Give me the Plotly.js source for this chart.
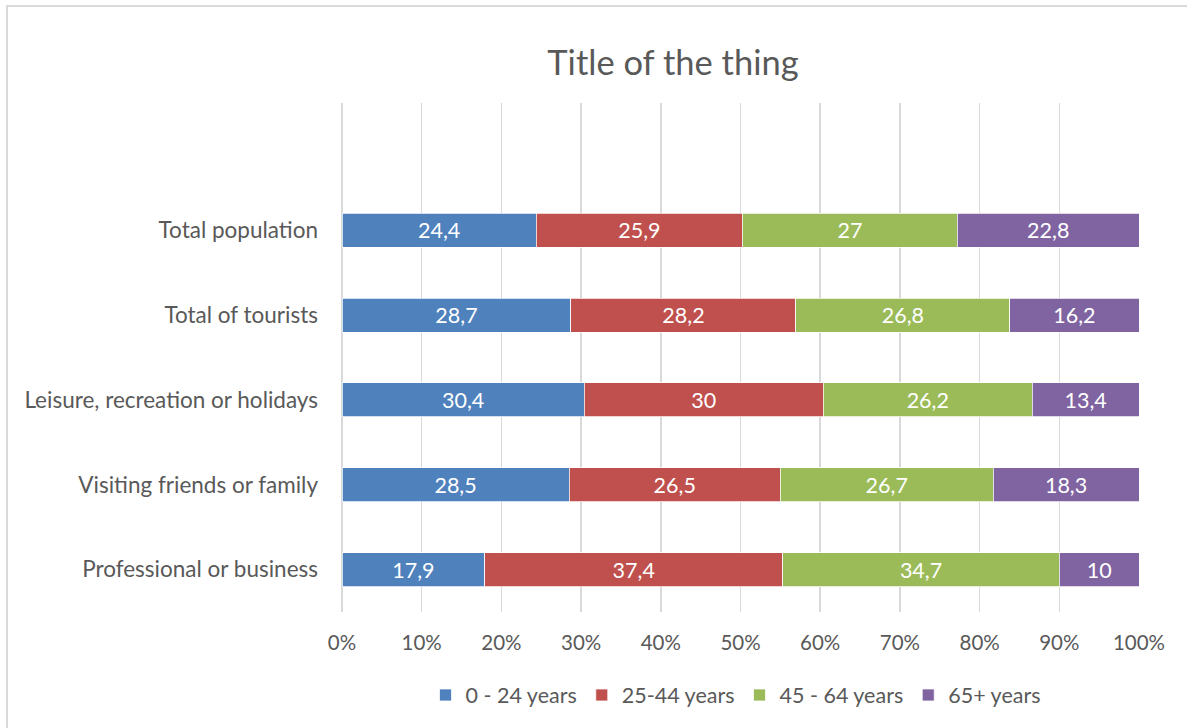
<!DOCTYPE html>
<html>
<head>
<meta charset="utf-8">
<script src="https://cdn.plot.ly/plotly-3.0.1.min.js"></script>
<style>
html,body{margin:0;padding:0;background:#fff;}
#wrap{position:relative;width:1187px;height:728px;overflow:hidden;}
#chart{width:1187px;height:728px;}
#frame{position:absolute;left:6px;top:5px;width:1400px;height:900px;border-top:2px solid #d9d9d9;border-left:2px solid #d9d9d9;pointer-events:none;}
</style>
</head>
<body>
<div id="wrap"><div id="chart"></div><div id="frame"></div></div>
<script>
var categories = ["Total population","Total of tourists","Leisure, recreation or holidays","Visiting friends or family","Professional or business"];
var seriesNames = ["0 - 24 years","25-44 years","45 - 64 years","65+ years"];
var age0to24 = [24.4, 28.7, 30.4, 28.5, 17.9];
var age25to44 = [25.9, 28.2, 30, 26.5, 37.4];
var age45to64 = [27, 26.8, 26.2, 26.7, 34.7];
var age65plus = [22.8, 16.2, 13.4, 18.3, 10];
var colors = ["#4F81BD","#C0504D","#9BBB59","#8064A2"];
var seriesValues = [age0to24, age25to44, age45to64, age65plus];

var font = "Lato, 'Open Sans', sans-serif";
var traces = seriesValues.map(function(vals, i){
  return {
    type: "bar",
    orientation: "h",
    name: seriesNames[i],
    y: categories,
    x: vals,
    width: 0.4,
    text: vals.map(function(v){ return String(v).replace('.', ','); }),
    textposition: "inside",
    insidetextanchor: "middle",
    textangle: 0,
    constraintext: "none",
    textfont: {family: font, size: 21.5, color: "#ffffff"},
    marker: {color: colors[i], line: {color: "#ffffff", width: 0.75}},
    hoverinfo: "name+text"
  };
});

var layout = {
  width: 1187, height: 728,
  margin: {l: 342, r: 48, t: 103, b: 116},
  barmode: "stack",
  barnorm: "percent",
  paper_bgcolor: "#ffffff",
  plot_bgcolor: "#ffffff",
  font: {family: font, color: "#595959", size: 21},
  title: {text: "Title of the thing", font: {family: font, size: 34.5, color: "#595959"},
          x: 673/1187, xref: "container", xanchor: "center", y: 1 - 63/728, yref: "container", yanchor: "middle"},
  xaxis: {range: [0, 100], dtick: 10, tick0: 0, ticksuffix: "%", showgrid: true, gridcolor: "#d9d9d9", gridwidth: 1.5,
          zeroline: true, zerolinecolor: "#d9d9d9", zerolinewidth: 1.5, showline: false, ticks: "",
          ticklabelstandoff: 16, tickfont: {family: font, size: 20.5, color: "#595959"}, fixedrange: true},
  yaxis: {type: "category", categoryorder: "array", categoryarray: categories, range: [4.5, -1.5],
          showgrid: false, zeroline: false, showline: false, ticks: "", ticklabelstandoff: 23,
          tickfont: {family: font, size: 22.5, color: "#595959"}, fixedrange: true},
  legend: {orientation: "h", x: 736/1187, xref: "container", xanchor: "center", y: 33/728, yref: "container", yanchor: "middle",
           font: {family: font, size: 21.5, color: "#595959"}, traceorder: "normal", itemwidth: 30},
  showlegend: true
};

Plotly.newPlot("chart", traces, layout, {displayModeBar: false, staticPlot: true});
</script>
</body>
</html>
